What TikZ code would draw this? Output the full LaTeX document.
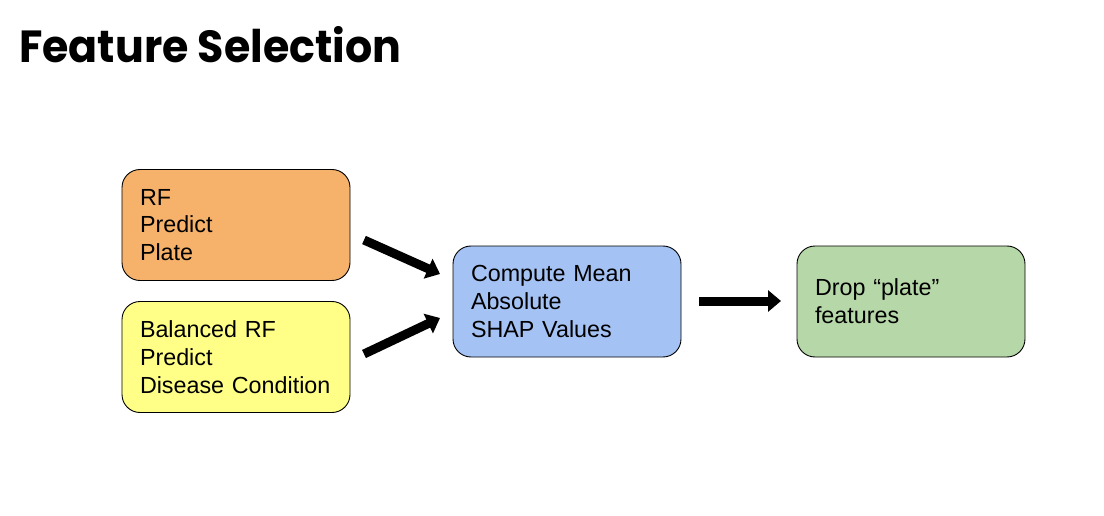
\documentclass[tikz,border=0pt]{standalone}
\usepackage{fontspec}
\setmainfont{Liberation Sans}
\newfontfamily\titlefont{Poppins}
\usepackage{tikz}
\usetikzlibrary{arrows.meta, positioning, calc}
\definecolor{rforange}{HTML}{F6B26B}
\definecolor{rfyellow}{HTML}{FFFF88}
\definecolor{shapblue}{HTML}{A4C2F4}
\definecolor{dropgreen}{HTML}{B6D7A8}
\tikzset{
    stepbox/.style={draw=black, line width=0.9pt, rounded corners=18pt,
        minimum width=228pt, minimum height=111pt, inner xsep=18pt,
        text width=192pt, align=left, font=\fontsize{23.3}{27.7}\selectfont},
    bigarrow/.style={-{Triangle[length=13pt, width=21pt]}, line width=9pt, black}
}
\begin{document}
\begin{tikzpicture}[x=1pt, y=-1pt]
    \useasboundingbox (0,0) rectangle (1104,516);

    \node[anchor=base west, inner sep=0pt, font=\titlefont\bfseries\fontsize{45}{50}\selectfont] (title) at (19,63) {\scalebox{0.95}[1]{Feature Selection}};

    \node[stepbox, fill=rforange] (rfplate) at (236,225) {RF\\Predict\\Plate};
    \node[stepbox, fill=rfyellow] (rfdisease) at (236,357) {Balanced RF\\Predict\\Disease Condition};
    \node[stepbox, fill=shapblue] (shap) at (567,301.5) {Compute Mean\\Absolute\\SHAP Values};
    \node[stepbox, fill=dropgreen] (drop) at (911,301.5) {Drop “plate”\\features};

    % free-floating arrows between the boxes
    \coordinate (platestart) at (364,240);
    \coordinate (plateend) at (440,274);
    \coordinate (diseasestart) at (364,354);
    \coordinate (diseaseend) at (440,318);
    \coordinate (shapstart) at (699,301);
    \coordinate (shapend) at (781,301);

    \draw[bigarrow] (platestart) -- (plateend);
    \draw[bigarrow] (diseasestart) -- (diseaseend);
    \draw[bigarrow] (shapstart) -- (shapend);
\end{tikzpicture}
\end{document}
